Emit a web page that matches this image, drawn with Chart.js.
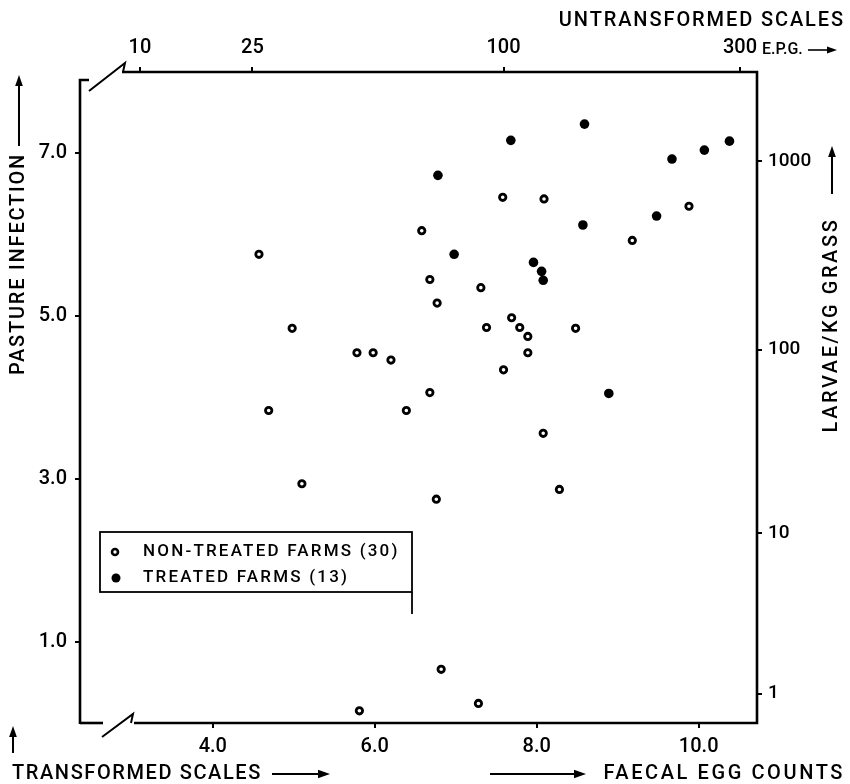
<!DOCTYPE html>
<html>
<head>
<meta charset="utf-8">
<script src="https://cdn.jsdelivr.net/npm/chart.js@4.4.1/dist/chart.umd.min.js"></script>
<style>
  html, body { margin: 0; padding: 0; background: #fff; }
  #wrap { position: relative; width: 850px; height: 784px; }
</style>
</head>
<body>
<div id="wrap"><canvas id="chart" width="850" height="784"></canvas></div>
<script>
// Transformed faecal egg count (x) against transformed pasture infection (y)
const nonTreatedX = [4.57, 4.98, 4.69, 5.10, 5.78, 5.98, 6.20, 6.58, 6.68, 6.39,
                     6.68, 6.77, 6.76, 7.31, 7.38, 7.58, 7.69, 7.79, 7.89, 7.89,
                     7.59, 8.09, 8.48, 8.08, 8.28, 9.18, 9.88, 5.81, 6.82, 7.28];
const nonTreatedY = [5.76, 4.85, 3.84, 2.94, 4.55, 4.55, 4.46, 6.05, 5.45, 3.84,
                     4.06, 5.16, 2.75, 5.35, 4.86, 6.46, 4.98, 4.86, 4.75, 4.55,
                     4.34, 6.44, 4.85, 3.56, 2.87, 5.93, 6.35, 0.15, 0.66, 0.24];
const treatedX = [6.78, 7.68, 8.59, 6.98, 8.57, 7.96, 8.06, 8.08, 8.89, 9.48, 9.67, 10.07, 10.38];
const treatedY = [6.73, 7.16, 7.36, 5.76, 6.12, 5.66, 5.55, 5.44, 4.05, 6.23, 6.93, 7.04, 7.15];

// Transformed-scale ticks
const bottomTicks = [4, 6, 8, 10];
const leftTicks = [1, 3, 5, 7];
// Untransformed scales: tick positions on the transformed axes and their labels
const topTickPos = [3.10, 4.49, 7.59, 10.51];
const topTickLabels = ['10', '25', '100', '300'];
const rightTickPos = [6.906, 4.587, 2.329, 0.362];
const rightTickLabels = ['1000', '100', '10', '1'];

const seriesNames = ['NON-TREATED FARMS (30)', 'TREATED FARMS (13)'];

const FONT = "Roboto, 'DejaVu Sans', sans-serif";
const INK = '#000';

const toPoints = (xs, ys) => xs.map((x, i) => ({ x, y: ys[i] }));

function fixedTicks(values) {
  return axis => { axis.ticks = values.map(v => ({ value: v })); };
}

function arrow(ctx, x1, y1, x2, y2, head) {
  const a = Math.atan2(y2 - y1, x2 - x1);
  ctx.beginPath();
  ctx.moveTo(x1, y1);
  ctx.lineTo(x2 - Math.cos(a) * head * 0.8, y2 - Math.sin(a) * head * 0.8);
  ctx.stroke();
  ctx.beginPath();
  ctx.moveTo(x2, y2);
  ctx.lineTo(x2 - head * Math.cos(a) + head * 0.35 * Math.sin(a), y2 - head * Math.sin(a) - head * 0.35 * Math.cos(a));
  ctx.lineTo(x2 - head * Math.cos(a) - head * 0.35 * Math.sin(a), y2 - head * Math.sin(a) + head * 0.35 * Math.cos(a));
  ctx.closePath();
  ctx.fill();
}

function text(ctx, str, x, y, size, align, spacing) {
  ctx.font = `500 ${size}px ${FONT}`;
  ctx.letterSpacing = (spacing || 0) + 'px';
  ctx.textAlign = align;
  ctx.textBaseline = 'middle';
  ctx.fillText(str, x, y);
  ctx.letterSpacing = '0px';
}

// Frame with axis breaks, legend box, axis titles and arrows
const figureDecor = {
  id: 'figureDecor',
  afterDraw(chart) {
    const ctx = chart.ctx;
    const { left: L, right: R, top: T, bottom: B } = chart.chartArea;
    ctx.save();
    ctx.strokeStyle = INK;
    ctx.fillStyle = INK;
    ctx.lineWidth = 2.6;
    ctx.lineJoin = 'miter';

    // left side with top-left break
    ctx.beginPath();
    ctx.moveTo(L, B + 1);
    ctx.lineTo(L, T + 8);
    ctx.lineTo(L + 9, T + 8);
    ctx.stroke();
    ctx.lineWidth = 2;
    ctx.beginPath();
    ctx.moveTo(L + 9, T + 19);
    ctx.lineTo(L + 45, T - 9);
    ctx.lineTo(L + 43, T);
    ctx.stroke();
    ctx.lineWidth = 2.6;
    ctx.beginPath();
    ctx.moveTo(L + 42, T);
    ctx.lineTo(R, T);
    ctx.lineTo(R, B);
    ctx.lineTo(L + 54, B);
    ctx.stroke();
    // bottom-left break
    ctx.beginPath();
    ctx.moveTo(L, B);
    ctx.lineTo(L + 23, B);
    ctx.stroke();
    ctx.lineWidth = 2;
    ctx.beginPath();
    ctx.moveTo(L + 22, B + 14);
    ctx.lineTo(L + 53, B - 9);
    ctx.lineTo(L + 51, B);
    ctx.stroke();

    // legend
    ctx.lineWidth = 1.8;
    const lx = 100, ly = 532, lw = 312, lh = 60;
    ctx.strokeRect(lx, ly, lw, lh);
    ctx.beginPath();
    ctx.moveTo(lx + lw, ly + lh);
    ctx.lineTo(lx + lw, ly + lh + 22);
    ctx.stroke();
    ctx.lineWidth = 2.6;
    ctx.beginPath();
    ctx.arc(115, 552, 3, 0, Math.PI * 2);
    ctx.stroke();
    ctx.beginPath();
    ctx.arc(116, 578, 4.5, 0, Math.PI * 2);
    ctx.fill();
    text(ctx, seriesNames[0], 143, 552, 17, 'left', 2.2);
    text(ctx, seriesNames[1], 143, 578, 17, 'left', 2.2);

    // top: untransformed scale title and unit
    text(ctx, 'UNTRANSFORMED SCALES', 845, 21, 20, 'right', 1.9);
    text(ctx, 'E.P.G.', 762, 50, 16, 'left', 0);
    ctx.lineWidth = 1.6;
    arrow(ctx, 808, 50, 837, 50, 10);

    // left title
    ctx.save();
    ctx.translate(19, 264);
    ctx.rotate(-Math.PI / 2);
    text(ctx, 'PASTURE INFECTION', 0, 0, 20, 'center', 1.8);
    ctx.restore();
    ctx.lineWidth = 2;
    arrow(ctx, 19, 146, 19, 75, 11);

    // right title
    ctx.save();
    ctx.translate(832, 325);
    ctx.rotate(-Math.PI / 2);
    text(ctx, 'LARVAE/KG GRASS', 0, 0, 20, 'center', 2.6);
    ctx.restore();
    arrow(ctx, 832, 194, 832, 146, 11);

    // bottom titles
    arrow(ctx, 13, 753, 13, 726, 11);
    text(ctx, 'TRANSFORMED SCALES', 12, 774, 20, 'left', 1.6);
    ctx.lineWidth = 1.8;
    arrow(ctx, 272, 774, 330, 774, 12);
    arrow(ctx, 490, 774, 586, 774, 12);
    text(ctx, 'FAECAL EGG COUNTS', 845, 774, 20, 'right', 2.6);

    ctx.restore();
  }
};

const tickGrid = { drawOnChartArea: false, drawTicks: true, tickLength: 5, color: INK, lineWidth: 2 };
const tickFont = { family: FONT, size: 20, weight: '500' };

new Chart(document.getElementById('chart'), {
  type: 'scatter',
  data: {
    datasets: [
      {
        label: seriesNames[0],
        data: toPoints(nonTreatedX, nonTreatedY),
        pointStyle: 'circle',
        pointRadius: 3.2,
        borderWidth: 2.8,
        borderColor: INK,
        backgroundColor: '#fff',
        pointHoverRadius: 3.2
      },
      {
        label: seriesNames[1],
        data: toPoints(treatedX, treatedY),
        pointStyle: 'circle',
        pointRadius: 4.8,
        borderWidth: 0,
        borderColor: INK,
        backgroundColor: INK,
        pointHoverRadius: 4.8
      }
    ]
  },
  options: {
    responsive: false,
    animation: false,
    events: [],
    layout: { padding: 0 },
    plugins: { legend: { display: false }, tooltip: { enabled: false } },
    scales: {
      x: {
        type: 'linear', position: 'bottom', min: 2.36, max: 10.72,
        afterBuildTicks: fixedTicks(bottomTicks),
        afterFit: s => { s.height = 61; },
        grid: tickGrid, border: { display: false },
        ticks: { color: INK, padding: 7, maxRotation: 0, font: tickFont,
                 callback: v => Number(v).toFixed(1) }
      },
      xTop: {
        type: 'linear', position: 'top', min: 2.36, max: 10.72,
        afterBuildTicks: fixedTicks(topTickPos),
        afterFit: s => { s.height = 72; },
        grid: tickGrid, border: { display: false },
        ticks: { color: INK, padding: 7, maxRotation: 0, font: tickFont,
                 callback: (v, i) => topTickLabels[i] }
      },
      y: {
        type: 'linear', position: 'left', min: 0, max: 8,
        afterBuildTicks: fixedTicks(leftTicks),
        afterFit: s => { s.width = 80; },
        grid: tickGrid, border: { display: false },
        ticks: { color: INK, padding: 8, font: tickFont,
                 callback: v => Number(v).toFixed(1) }
      },
      yRight: {
        type: 'linear', position: 'right', min: 0, max: 8,
        afterBuildTicks: fixedTicks(rightTickPos),
        afterFit: s => { s.width = 93; },
        grid: tickGrid, border: { display: false },
        ticks: { color: INK, padding: 6, font: { family: FONT, size: 19, weight: '500' },
                 callback: (v, i) => rightTickLabels[i] }
      }
    }
  },
  plugins: [figureDecor]
});
</script>
</body>
</html>
